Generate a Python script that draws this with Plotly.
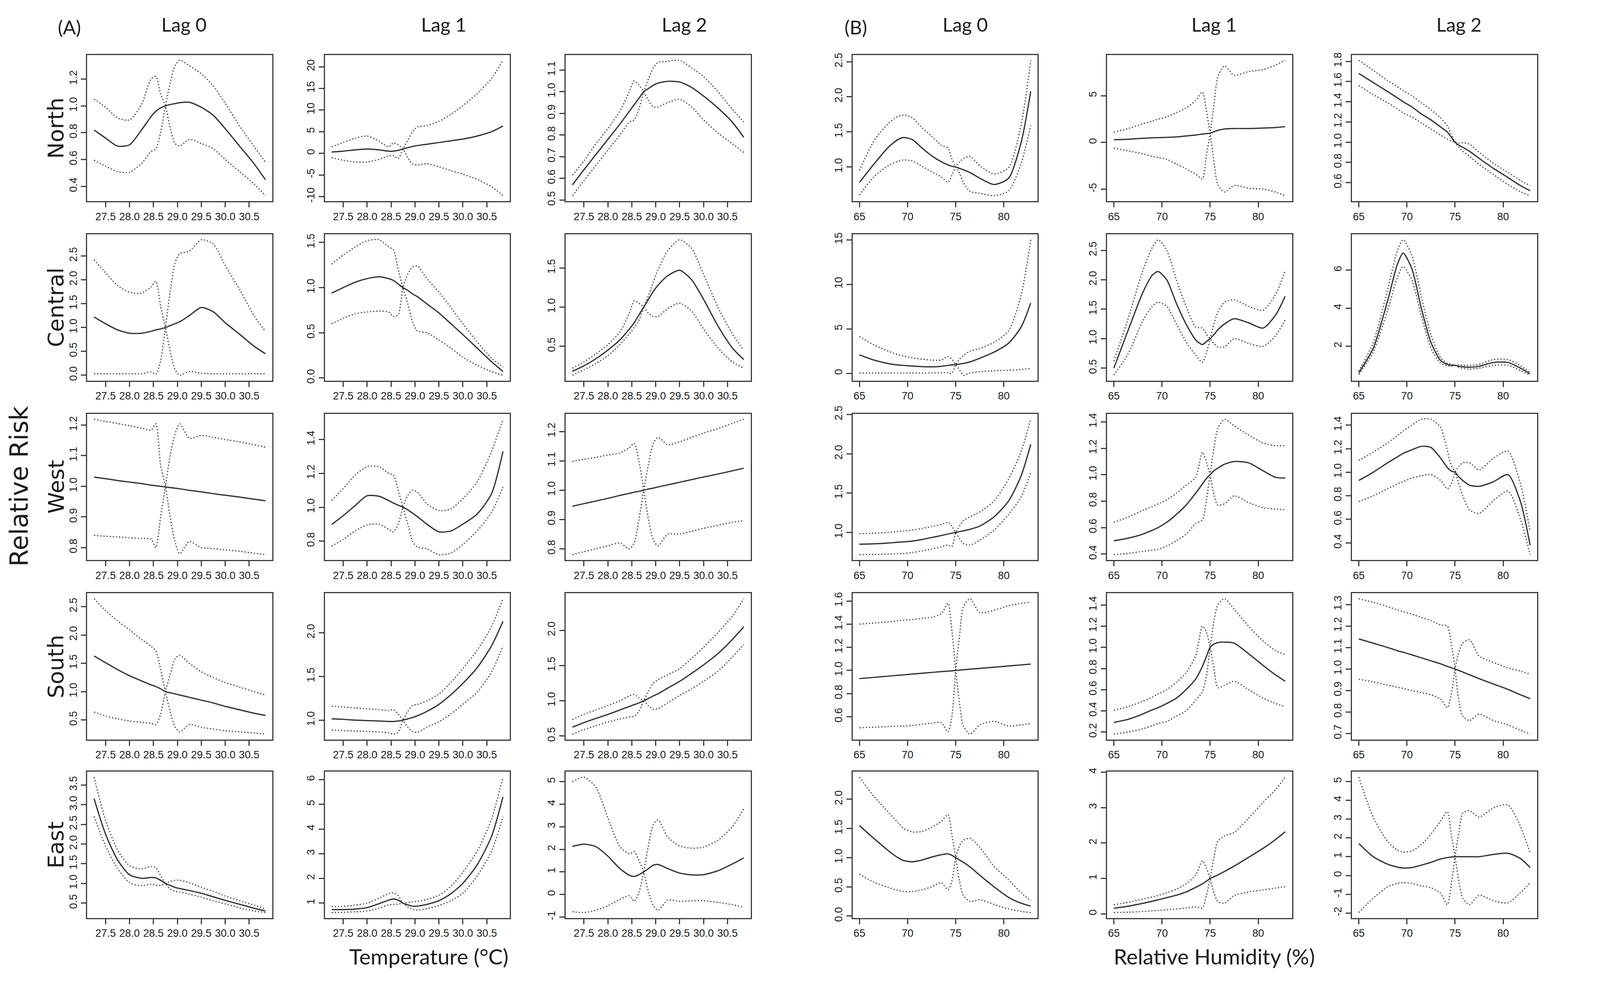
import plotly.graph_objects as go

# ---------------------------------------------------------------- data
temp_grid = [27.26, 27.5, 27.75, 28.0, 28.25, 28.45, 28.55, 28.65, 28.75, 28.85,
             28.95, 29.05, 29.25, 29.5, 29.75, 30.0, 30.3, 30.6, 30.84]
hum_grid = [65, 66.5, 68, 69, 69.6, 70.5, 71.5, 72.5, 73.5, 74.2,
            74.6, 75, 75.4, 75.8, 76.5, 77.5, 79, 80.5, 81.8, 82.8]
temp_ticks = [27.5, 28.0, 28.5, 29.0, 29.5, 30.0, 30.5]
hum_ticks = [65, 70, 75, 80]
regions = ["North", "Central", "West", "South", "East"]
lag_titles = ["Lag 0", "Lag 1", "Lag 2", "Lag 0", "Lag 1", "Lag 2"]
panel_tags = ["(A)", "(B)"]
x_titles = ["Temperature (°C)", "Relative Humidity (%)"]
y_title = "Relative Risk"

# North
north_t0_fit = [0.82, 0.76, 0.70, 0.71, 0.82, 0.92, 0.96, 0.985, 1.0, 1.01, 1.017, 1.024, 1.027, 0.99, 0.93, 0.83, 0.70, 0.57, 0.45]
north_t0_ci_a = [1.05, 0.99, 0.91, 0.895, 1.01, 1.20, 1.22, 1.09, 1.0, 0.84, 0.72, 0.70, 0.75, 0.72, 0.68, 0.60, 0.51, 0.42, 0.33]
north_t0_ci_b = [0.595, 0.55, 0.51, 0.505, 0.57, 0.66, 0.68, 0.80, 1.0, 1.17, 1.30, 1.34, 1.30, 1.24, 1.15, 1.02, 0.85, 0.70, 0.58]
north_t0_yt = [0.4, 0.6, 0.8, 1.0, 1.2]

north_t1_fit = [0.3, 0.5, 0.8, 1.0, 0.8, 0.5, 0.5, 0.7, 1.0, 1.3, 1.6, 1.8, 2.1, 2.5, 2.9, 3.3, 4.0, 5.0, 6.3]
north_t1_ci_a = [1.5, 2.5, 3.5, 4.0, 2.8, 1.5, 2.4, 2.0, 1.0, -1.0, -2.5, -2.7, -2.4, -3.1, -4.0, -4.8, -6.0, -7.7, -9.8]
north_t1_ci_b = [-1.0, -1.6, -2.0, -2.0, -1.4, -0.6, -0.5, -1.2, 1.0, 3.0, 5.0, 6.1, 6.4, 7.4, 9.0, 11.0, 13.8, 17.3, 21.5]
north_t1_yt = [-10, -5, 0, 5, 10, 15, 20]

north_t2_fit = [0.57, 0.64, 0.71, 0.78, 0.85, 0.91, 0.94, 0.97, 1.0, 1.015, 1.03, 1.04, 1.048, 1.045, 1.02, 0.98, 0.925, 0.86, 0.79]
north_t2_ci_a = [0.615, 0.68, 0.76, 0.83, 0.91, 1.0, 1.05, 1.03, 1.0, 0.96, 0.93, 0.93, 0.95, 0.965, 0.93, 0.87, 0.81, 0.76, 0.72]
north_t2_ci_b = [0.52, 0.59, 0.66, 0.73, 0.80, 0.86, 0.87, 0.92, 1.0, 1.06, 1.11, 1.135, 1.14, 1.145, 1.11, 1.07, 1.0, 0.92, 0.86]
north_t2_yt = [0.5, 0.6, 0.7, 0.8, 0.9, 1.0, 1.1]

north_h0_fit = [0.78, 1.04, 1.28, 1.39, 1.42, 1.39, 1.27, 1.16, 1.075, 1.03, 1.01, 1.0, 0.98, 0.96, 0.92, 0.84, 0.75, 0.84, 1.35, 2.08]
north_h0_ci_a = [0.95, 1.37, 1.62, 1.72, 1.74, 1.70, 1.56, 1.44, 1.31, 1.27, 1.12, 1.0, 0.91, 0.78, 0.65, 0.625, 0.59, 0.66, 1.05, 1.59]
north_h0_ci_b = [0.60, 0.86, 1.02, 1.08, 1.10, 1.085, 1.01, 0.93, 0.86, 0.78, 0.88, 1.0, 1.07, 1.12, 1.15, 1.02, 0.90, 0.99, 1.6, 2.52]
north_h0_yt = [1.0, 1.5, 2.0, 2.5]

north_h1_fit = [0.3, 0.35, 0.45, 0.5, 0.52, 0.55, 0.6, 0.7, 0.8, 0.9, 0.95, 1.0, 1.15, 1.3, 1.45, 1.5, 1.5, 1.55, 1.6, 1.7]
north_h1_ci_a = [1.1, 1.5, 2.0, 2.3, 2.5, 2.75, 3.2, 3.7, 4.5, 5.4, 3.5, 1.0, -2.0, -4.5, -5.3, -4.6, -4.9, -5.0, -5.3, -5.7]
north_h1_ci_b = [-0.6, -0.9, -1.2, -1.5, -1.6, -1.8, -2.3, -2.8, -3.4, -3.9, -1.5, 1.0, 4.0, 7.0, 8.2, 7.2, 7.6, 7.8, 8.3, 8.8]
north_h1_yt = [-5, 0, 5]

north_h2_fit = [1.68, 1.59, 1.50, 1.44, 1.40, 1.35, 1.28, 1.22, 1.15, 1.10, 1.05, 1.0, 0.97, 0.95, 0.91, 0.84, 0.74, 0.65, 0.57, 0.52]
north_h2_ci_a = [1.81, 1.71, 1.61, 1.55, 1.51, 1.46, 1.39, 1.32, 1.24, 1.16, 1.08, 1.0, 0.95, 0.91, 0.86, 0.78, 0.68, 0.58, 0.51, 0.47]
north_h2_ci_b = [1.56, 1.47, 1.39, 1.33, 1.29, 1.25, 1.19, 1.13, 1.07, 1.03, 1.01, 1.0, 0.99, 0.995, 0.98, 0.90, 0.79, 0.70, 0.62, 0.57]
north_h2_yt = [0.6, 0.8, 1.0, 1.2, 1.4, 1.6, 1.8]

# Central
central_t0_fit = [1.22, 1.08, 0.95, 0.88, 0.88, 0.92, 0.95, 0.97, 1.0, 1.04, 1.08, 1.12, 1.25, 1.42, 1.33, 1.10, 0.86, 0.61, 0.45]
central_t0_ci_a = [2.42, 2.15, 1.88, 1.74, 1.72, 1.85, 1.97, 1.45, 1.0, 0.5, 0.12, 0.0, 0.08, 0.04, 0.03, 0.03, 0.03, 0.03, 0.03]
central_t0_ci_b = [0.03, 0.03, 0.03, 0.03, 0.03, 0.07, 0.02, 0.3, 1.0, 1.75, 2.35, 2.55, 2.6, 2.84, 2.75, 2.3, 1.8, 1.25, 0.92]
central_t0_yt = [0.0, 0.5, 1.0, 1.5, 2.0, 2.5]

central_t1_fit = [0.94, 1.0, 1.06, 1.10, 1.12, 1.10, 1.08, 1.04, 1.0, 0.97, 0.93, 0.90, 0.82, 0.72, 0.60, 0.48, 0.33, 0.18, 0.07]
central_t1_ci_a = [1.26, 1.36, 1.45, 1.52, 1.53, 1.45, 1.42, 1.2, 1.0, 0.82, 0.62, 0.52, 0.5, 0.42, 0.33, 0.23, 0.14, 0.07, 0.03]
central_t1_ci_b = [0.60, 0.66, 0.71, 0.73, 0.74, 0.73, 0.68, 0.70, 1.0, 1.15, 1.23, 1.24, 1.1, 0.95, 0.78, 0.60, 0.40, 0.22, 0.12]
central_t1_yt = [0.0, 0.5, 1.0, 1.5]

central_t2_fit = [0.18, 0.25, 0.34, 0.45, 0.58, 0.72, 0.80, 0.90, 1.0, 1.1, 1.2, 1.28, 1.40, 1.47, 1.35, 1.1, 0.76, 0.48, 0.33]
central_t2_ci_a = [0.22, 0.30, 0.40, 0.52, 0.68, 0.92, 1.08, 1.05, 1.0, 0.92, 0.88, 0.88, 0.98, 1.05, 0.95, 0.72, 0.48, 0.30, 0.22]
central_t2_ci_b = [0.13, 0.20, 0.28, 0.38, 0.52, 0.66, 0.74, 0.83, 1.0, 1.15, 1.32, 1.48, 1.72, 1.86, 1.75, 1.42, 1.0, 0.66, 0.45]
central_t2_yt = [0.5, 1.0, 1.5]

central_h0_fit = [2.08, 1.5, 1.1, 0.95, 0.9, 0.83, 0.76, 0.74, 0.8, 0.9, 0.95, 1.0, 1.05, 1.12, 1.3, 1.7, 2.4, 3.4, 5.2, 7.9]
central_h0_ci_a = [4.15, 3.2, 2.5, 2.1, 1.95, 1.75, 1.6, 1.5, 1.5, 1.9, 1.6, 1.0, 0.4, -0.2, 0.05, 0.2, 0.3, 0.35, 0.45, 0.55]
central_h0_ci_b = [0.05, 0.05, 0.05, 0.05, 0.05, 0.05, 0.05, 0.05, 0.08, 0.1, 0.0, 1.0, 1.6, 2.0, 2.5, 2.8, 3.5, 4.8, 8.8, 15.0]
central_h0_yt = [0, 5, 10, 15]

central_h1_fit = [0.5, 1.15, 1.78, 2.08, 2.14, 2.0, 1.6, 1.25, 0.98, 0.9, 0.95, 1.0, 1.07, 1.15, 1.25, 1.34, 1.27, 1.18, 1.4, 1.72]
central_h1_ci_a = [0.62, 1.35, 2.15, 2.55, 2.68, 2.5, 2.0, 1.55, 1.2, 1.18, 1.08, 1.0, 0.92, 0.86, 0.86, 1.0, 0.92, 0.87, 1.05, 1.32]
central_h1_ci_b = [0.38, 0.75, 1.3, 1.55, 1.62, 1.55, 1.25, 0.95, 0.72, 0.6, 0.75, 1.0, 1.25, 1.45, 1.62, 1.66, 1.55, 1.48, 1.75, 2.15]
central_h1_yt = [0.5, 1.0, 1.5, 2.0, 2.5]

central_h2_fit = [0.6, 1.9, 4.4, 6.3, 6.9, 6.1, 4.0, 2.2, 1.25, 1.05, 1.0, 1.0, 0.95, 0.92, 0.9, 0.95, 1.15, 1.15, 0.85, 0.55]
central_h2_ci_a = [0.7, 2.2, 5.0, 7.0, 7.6, 6.8, 4.6, 2.6, 1.4, 1.1, 1.05, 1.0, 0.88, 0.84, 0.8, 0.85, 1.0, 1.0, 0.72, 0.48]
central_h2_ci_b = [0.52, 1.7, 3.9, 5.6, 6.2, 5.5, 3.6, 1.9, 1.1, 0.98, 0.95, 1.0, 1.02, 1.0, 1.0, 1.05, 1.3, 1.3, 0.98, 0.62]
central_h2_yt = [2, 4, 6]

# West
west_t0_fit = [1.03, 1.025, 1.019, 1.014, 1.009, 1.004, 1.002, 1.0, 0.998, 0.996, 0.994, 0.992, 0.987, 0.982, 0.976, 0.971, 0.965, 0.958, 0.953]
west_t0_ci_a = [1.219, 1.212, 1.205, 1.198, 1.19, 1.183, 1.204, 1.07, 1.0, 0.9, 0.82, 0.78, 0.82, 0.80, 0.797, 0.793, 0.788, 0.782, 0.777]
west_t0_ci_b = [0.84, 0.837, 0.835, 0.832, 0.83, 0.828, 0.80, 0.90, 1.0, 1.1, 1.17, 1.204, 1.157, 1.166, 1.16, 1.153, 1.145, 1.136, 1.128]
west_t0_yt = [0.8, 0.9, 1.0, 1.1, 1.2]

west_t1_fit = [0.898, 0.95, 1.01, 1.068, 1.065, 1.04, 1.025, 1.012, 1.0, 0.985, 0.965, 0.945, 0.9, 0.855, 0.86, 0.90, 0.96, 1.08, 1.33]
west_t1_ci_a = [1.04, 1.11, 1.19, 1.24, 1.24, 1.2, 1.19, 1.1, 1.0, 0.9, 0.8, 0.765, 0.755, 0.72, 0.73, 0.78, 0.86, 0.97, 1.12]
west_t1_ci_b = [0.77, 0.81, 0.86, 0.895, 0.9, 0.87, 0.855, 0.9, 1.0, 1.07, 1.1, 1.09, 1.02, 0.98, 0.99, 1.05, 1.15, 1.33, 1.52]
west_t1_yt = [0.8, 1.0, 1.2, 1.4]

west_t2_fit = [0.945, 0.954, 0.963, 0.972, 0.982, 0.989, 0.993, 0.996, 1.0, 1.004, 1.007, 1.011, 1.018, 1.027, 1.036, 1.045, 1.055, 1.066, 1.075]
west_t2_ci_a = [1.098, 1.105, 1.112, 1.12, 1.127, 1.145, 1.16, 1.1, 1.0, 0.9, 0.83, 0.81, 0.85, 0.85, 0.86, 0.87, 0.88, 0.89, 0.896]
west_t2_ci_b = [0.78, 0.79, 0.80, 0.81, 0.82, 0.80, 0.82, 0.9, 1.0, 1.09, 1.16, 1.18, 1.155, 1.165, 1.18, 1.195, 1.21, 1.228, 1.242]
west_t2_yt = [0.8, 0.9, 1.0, 1.1, 1.2]

west_h0_fit = [0.85, 0.855, 0.865, 0.875, 0.88, 0.89, 0.91, 0.935, 0.96, 0.98, 0.99, 1.0, 1.01, 1.02, 1.04, 1.08, 1.2, 1.4, 1.72, 2.12]
west_h0_ci_a = [0.983, 0.99, 1.0, 1.01, 1.017, 1.03, 1.05, 1.075, 1.1, 1.13, 1.08, 1.0, 0.92, 0.86, 0.84, 0.9, 1.03, 1.23, 1.45, 1.76]
west_h0_ci_b = [0.717, 0.72, 0.725, 0.73, 0.733, 0.745, 0.765, 0.79, 0.815, 0.84, 0.82, 1.0, 1.08, 1.15, 1.2, 1.26, 1.4, 1.68, 2.03, 2.44]
west_h0_yt = [1.0, 1.5, 2.0, 2.5]

west_h1_fit = [0.5, 0.52, 0.55, 0.58, 0.6, 0.64, 0.7, 0.77, 0.86, 0.93, 0.97, 1.0, 1.03, 1.05, 1.08, 1.1, 1.09, 1.03, 0.98, 0.975]
west_h1_ci_a = [0.64, 0.68, 0.73, 0.76, 0.78, 0.81, 0.86, 0.92, 0.98, 1.17, 1.1, 1.0, 0.85, 0.77, 0.78, 0.84, 0.79, 0.75, 0.74, 0.735]
west_h1_ci_b = [0.395, 0.405, 0.42, 0.43, 0.435, 0.46, 0.5, 0.55, 0.63, 0.66, 0.8, 1.0, 1.2, 1.35, 1.42, 1.37, 1.3, 1.24, 1.22, 1.22]
west_h1_yt = [0.4, 0.6, 0.8, 1.0, 1.2, 1.4]

west_h2_fit = [0.93, 1.0, 1.08, 1.13, 1.16, 1.19, 1.22, 1.21, 1.12, 1.04, 1.01, 1.0, 0.96, 0.93, 0.89, 0.88, 0.92, 0.98, 0.75, 0.38]
west_h2_ci_a = [1.1, 1.17, 1.25, 1.31, 1.35, 1.4, 1.45, 1.45, 1.38, 1.18, 1.06, 1.0, 0.9, 0.8, 0.68, 0.65, 0.76, 0.84, 0.6, 0.3]
west_h2_ci_b = [0.75, 0.8, 0.86, 0.9, 0.92, 0.95, 0.97, 0.98, 0.93, 0.86, 0.9, 1.0, 1.05, 1.08, 1.08, 1.02, 1.12, 1.18, 0.9, 0.5]
west_h2_yt = [0.4, 0.6, 0.8, 1.0, 1.2, 1.4]

# South
south_t0_fit = [1.63, 1.51, 1.39, 1.28, 1.19, 1.12, 1.09, 1.05, 1.0, 0.98, 0.96, 0.94, 0.9, 0.85, 0.8, 0.74, 0.68, 0.62, 0.58]
south_t0_ci_a = [2.64, 2.43, 2.25, 2.09, 1.92, 1.8, 1.72, 1.4, 1.0, 0.65, 0.38, 0.29, 0.42, 0.37, 0.34, 0.31, 0.29, 0.27, 0.25]
south_t0_ci_b = [0.64, 0.57, 0.52, 0.48, 0.46, 0.44, 0.42, 0.6, 1.0, 1.3, 1.58, 1.64, 1.5, 1.35, 1.25, 1.16, 1.08, 1.0, 0.94]
south_t0_yt = [0.5, 1.0, 1.5, 2.0, 2.5]

south_t1_fit = [1.015, 1.01, 1.0, 0.995, 0.99, 0.985, 0.985, 0.99, 1.0, 1.015, 1.03, 1.05, 1.1, 1.18, 1.29, 1.42, 1.6, 1.85, 2.13]
south_t1_ci_a = [1.16, 1.15, 1.14, 1.13, 1.12, 1.11, 1.12, 1.07, 1.0, 0.92, 0.87, 0.86, 0.92, 0.98, 1.07, 1.18, 1.32, 1.55, 1.85]
south_t1_ci_b = [0.886, 0.88, 0.875, 0.871, 0.865, 0.856, 0.84, 0.86, 1.0, 1.1, 1.17, 1.18, 1.22, 1.3, 1.43, 1.59, 1.8, 2.07, 2.39]
south_t1_yt = [1.0, 1.5, 2.0]

south_t2_fit = [0.626, 0.69, 0.75, 0.807, 0.87, 0.92, 0.945, 0.97, 1.0, 1.035, 1.07, 1.1, 1.18, 1.276, 1.39, 1.51, 1.67, 1.87, 2.05]
south_t2_ci_a = [0.735, 0.807, 0.87, 0.933, 1.0, 1.07, 1.09, 1.04, 1.0, 0.93, 0.88, 0.89, 0.97, 1.077, 1.17, 1.276, 1.42, 1.62, 1.8]
south_t2_ci_b = [0.527, 0.59, 0.645, 0.7, 0.74, 0.77, 0.78, 0.85, 1.0, 1.14, 1.25, 1.3, 1.37, 1.457, 1.6, 1.76, 1.97, 2.2, 2.45]
south_t2_yt = [0.5, 1.0, 1.5, 2.0]

south_h0_fit = [0.93, 0.94, 0.951, 0.958, 0.962, 0.969, 0.976, 0.983, 0.99, 0.994, 0.997, 1.0, 1.003, 1.006, 1.011, 1.018, 1.028, 1.039, 1.048, 1.055]
south_h0_ci_a = [1.4, 1.41, 1.42, 1.43, 1.435, 1.44, 1.45, 1.46, 1.49, 1.58, 1.35, 1.0, 0.72, 0.52, 0.45, 0.53, 0.56, 0.52, 0.53, 0.54]
south_h0_ci_b = [0.505, 0.51, 0.515, 0.52, 0.52, 0.525, 0.535, 0.545, 0.55, 0.47, 0.6, 1.0, 1.3, 1.55, 1.62, 1.5, 1.52, 1.56, 1.58, 1.59]
south_h0_yt = [0.6, 0.8, 1.0, 1.2, 1.4, 1.6]

south_h1_fit = [0.29, 0.32, 0.37, 0.41, 0.43, 0.47, 0.52, 0.6, 0.7, 0.82, 0.91, 1.0, 1.03, 1.045, 1.05, 1.04, 0.94, 0.83, 0.74, 0.68]
south_h1_ci_a = [0.405, 0.44, 0.49, 0.53, 0.56, 0.6, 0.67, 0.76, 0.92, 1.2, 1.15, 1.0, 0.8, 0.62, 0.64, 0.68, 0.6, 0.52, 0.47, 0.44]
south_h1_ci_b = [0.18, 0.2, 0.23, 0.26, 0.28, 0.3, 0.35, 0.4, 0.5, 0.58, 0.72, 1.0, 1.25, 1.4, 1.46, 1.36, 1.2, 1.06, 0.97, 0.93]
south_h1_yt = [0.2, 0.4, 0.6, 0.8, 1.0, 1.2, 1.4]

south_h2_fit = [1.14, 1.12, 1.10, 1.085, 1.078, 1.066, 1.052, 1.038, 1.024, 1.012, 1.006, 1.0, 0.993, 0.986, 0.973, 0.955, 0.93, 0.905, 0.88, 0.862]
south_h2_ci_a = [1.327, 1.31, 1.29, 1.275, 1.267, 1.255, 1.24, 1.225, 1.205, 1.2, 1.12, 1.0, 0.85, 0.78, 0.76, 0.79, 0.76, 0.74, 0.715, 0.697]
south_h2_ci_b = [0.952, 0.94, 0.925, 0.915, 0.91, 0.9, 0.89, 0.88, 0.86, 0.82, 0.88, 1.0, 1.08, 1.12, 1.136, 1.06, 1.03, 1.005, 0.99, 0.976]
south_h2_yt = [0.7, 0.8, 0.9, 1.0, 1.1, 1.2, 1.3]

# East
east_t0_fit = [3.15, 2.25, 1.6, 1.22, 1.13, 1.15, 1.14, 1.08, 1.0, 0.95, 0.9, 0.87, 0.82, 0.75, 0.66, 0.57, 0.47, 0.37, 0.3]
east_t0_ci_a = [3.7, 2.6, 1.85, 1.45, 1.37, 1.43, 1.4, 1.2, 1.0, 0.86, 0.8, 0.78, 0.73, 0.65, 0.56, 0.48, 0.38, 0.3, 0.26]
east_t0_ci_b = [2.7, 1.95, 1.38, 1.02, 0.94, 0.98, 0.95, 0.95, 1.0, 1.05, 1.08, 1.08, 1.02, 0.9, 0.8, 0.68, 0.56, 0.45, 0.35]
east_t0_yt = [0.5, 1.0, 1.5, 2.0, 2.5, 3.0, 3.5]

east_t1_fit = [0.74, 0.74, 0.76, 0.82, 0.98, 1.12, 1.17, 1.12, 1.0, 0.93, 0.88, 0.88, 0.95, 1.1, 1.38, 1.8, 2.55, 3.7, 5.3]
east_t1_ci_a = [0.86, 0.87, 0.92, 1.0, 1.2, 1.38, 1.42, 1.3, 1.0, 0.85, 0.75, 0.72, 0.78, 0.9, 1.1, 1.4, 2.1, 3.1, 4.5]
east_t1_ci_b = [0.62, 0.63, 0.65, 0.68, 0.8, 0.93, 0.95, 0.96, 1.0, 1.03, 1.05, 1.07, 1.15, 1.32, 1.68, 2.25, 3.1, 4.4, 6.1]
east_t1_yt = [1, 2, 3, 4, 5, 6]

east_t2_fit = [2.13, 2.23, 2.12, 1.7, 1.15, 0.85, 0.8, 0.88, 1.0, 1.15, 1.3, 1.33, 1.15, 0.95, 0.87, 0.88, 1.05, 1.35, 1.62]
east_t2_ci_a = [5.0, 5.2, 4.75, 3.4, 2.13, 1.8, 1.9, 1.5, 1.0, 0.1, -0.5, -0.7, -0.25, -0.3, -0.28, -0.27, -0.35, -0.45, -0.57]
east_t2_ci_b = [-0.76, -0.8, -0.7, -0.5, -0.22, -0.05, -0.3, 0.1, 1.0, 2.2, 3.1, 3.3, 2.55, 2.15, 2.05, 2.1, 2.4, 3.0, 3.8]
east_t2_yt = [-1, 0, 1, 2, 3, 4, 5]

east_h0_fit = [1.55, 1.33, 1.12, 1.0, 0.95, 0.93, 0.96, 1.01, 1.05, 1.065, 1.04, 1.0, 0.96, 0.92, 0.84, 0.7, 0.5, 0.32, 0.22, 0.17]
east_h0_ci_a = [2.38, 2.05, 1.78, 1.6, 1.5, 1.44, 1.45, 1.52, 1.62, 1.74, 1.4, 1.0, 0.6, 0.35, 0.25, 0.28, 0.2, 0.12, 0.08, 0.06]
east_h0_ci_b = [0.72, 0.58, 0.49, 0.44, 0.42, 0.42, 0.45, 0.5, 0.57, 0.45, 0.6, 1.0, 1.2, 1.3, 1.33, 1.18, 0.85, 0.62, 0.4, 0.26]
east_h0_yt = [0.0, 0.5, 1.0, 1.5, 2.0]

east_h1_fit = [0.16, 0.22, 0.3, 0.36, 0.4, 0.46, 0.53, 0.62, 0.75, 0.85, 0.92, 1.0, 1.05, 1.1, 1.2, 1.35, 1.6, 1.85, 2.1, 2.32]
east_h1_ci_a = [0.26, 0.33, 0.42, 0.48, 0.52, 0.6, 0.7, 0.85, 1.1, 1.5, 1.3, 1.0, 0.6, 0.35, 0.3, 0.52, 0.62, 0.68, 0.73, 0.77]
east_h1_ci_b = [0.04, 0.05, 0.07, 0.09, 0.1, 0.12, 0.14, 0.17, 0.2, 0.17, 0.5, 1.0, 1.6, 2.05, 2.2, 2.3, 2.7, 3.15, 3.5, 3.86]
east_h1_yt = [0, 1, 2, 3, 4]

east_h2_fit = [1.7, 1.0, 0.6, 0.45, 0.4, 0.42, 0.55, 0.7, 0.88, 0.95, 0.98, 1.0, 1.0, 1.0, 1.0, 1.0, 1.12, 1.18, 0.9, 0.42]
east_h2_ci_a = [5.23, 3.1, 1.8, 1.35, 1.25, 1.3, 1.65, 2.2, 2.9, 3.4, 2.2, 1.0, -0.3, -1.2, -1.55, -1.05, -1.35, -1.45, -0.9, -0.4]
east_h2_ci_b = [-1.97, -1.2, -0.6, -0.42, -0.38, -0.42, -0.55, -0.65, -0.95, -1.55, -0.5, 1.0, 2.3, 3.3, 3.45, 3.1, 3.6, 3.75, 2.6, 1.2]
east_h2_yt = [-2, -1, 0, 1, 2, 3, 4, 5]

# panel table built from the named lists (row = region, col = T lag0..2, RH lag0..2)
panels = [
    [(north_t0_fit, north_t0_ci_a, north_t0_ci_b, north_t0_yt), (north_t1_fit, north_t1_ci_a, north_t1_ci_b, north_t1_yt),
     (north_t2_fit, north_t2_ci_a, north_t2_ci_b, north_t2_yt), (north_h0_fit, north_h0_ci_a, north_h0_ci_b, north_h0_yt),
     (north_h1_fit, north_h1_ci_a, north_h1_ci_b, north_h1_yt), (north_h2_fit, north_h2_ci_a, north_h2_ci_b, north_h2_yt)],
    [(central_t0_fit, central_t0_ci_a, central_t0_ci_b, central_t0_yt), (central_t1_fit, central_t1_ci_a, central_t1_ci_b, central_t1_yt),
     (central_t2_fit, central_t2_ci_a, central_t2_ci_b, central_t2_yt), (central_h0_fit, central_h0_ci_a, central_h0_ci_b, central_h0_yt),
     (central_h1_fit, central_h1_ci_a, central_h1_ci_b, central_h1_yt), (central_h2_fit, central_h2_ci_a, central_h2_ci_b, central_h2_yt)],
    [(west_t0_fit, west_t0_ci_a, west_t0_ci_b, west_t0_yt), (west_t1_fit, west_t1_ci_a, west_t1_ci_b, west_t1_yt),
     (west_t2_fit, west_t2_ci_a, west_t2_ci_b, west_t2_yt), (west_h0_fit, west_h0_ci_a, west_h0_ci_b, west_h0_yt),
     (west_h1_fit, west_h1_ci_a, west_h1_ci_b, west_h1_yt), (west_h2_fit, west_h2_ci_a, west_h2_ci_b, west_h2_yt)],
    [(south_t0_fit, south_t0_ci_a, south_t0_ci_b, south_t0_yt), (south_t1_fit, south_t1_ci_a, south_t1_ci_b, south_t1_yt),
     (south_t2_fit, south_t2_ci_a, south_t2_ci_b, south_t2_yt), (south_h0_fit, south_h0_ci_a, south_h0_ci_b, south_h0_yt),
     (south_h1_fit, south_h1_ci_a, south_h1_ci_b, south_h1_yt), (south_h2_fit, south_h2_ci_a, south_h2_ci_b, south_h2_yt)],
    [(east_t0_fit, east_t0_ci_a, east_t0_ci_b, east_t0_yt), (east_t1_fit, east_t1_ci_a, east_t1_ci_b, east_t1_yt),
     (east_t2_fit, east_t2_ci_a, east_t2_ci_b, east_t2_yt), (east_h0_fit, east_h0_ci_a, east_h0_ci_b, east_h0_yt),
     (east_h1_fit, east_h1_ci_a, east_h1_ci_b, east_h1_yt), (east_h2_fit, east_h2_ci_a, east_h2_ci_b, east_h2_yt)],
]

# ---------------------------------------------------------------- layout / style
W, H = 4220, 2566
REF_W, REF_H = 1568.0, 953.5            # layout measured in these units
COL_LEFT = [80, 306, 535, 808, 1050, 1283]
COL_W = 176
ROW_TOP = [42, 215, 388, 561, 733]
ROW_H = 141

FIT_COLOR = "#333333"
CI_COLOR = "#4d4d4d"
FRAME_COLOR = "#3c3c3c"
TEXT_COLOR = "#1c1c1c"
TICK_FONT = dict(family="Liberation Sans Narrow, Arial Narrow, Liberation Sans, Arial, sans-serif",
                 size=27, color=TEXT_COLOR)
TITLE_FONT = dict(family="Lato, Open Sans, sans-serif", size=49, color=TEXT_COLOR)
ROW_FONT = dict(family="DejaVu Sans, Verdana, sans-serif", size=56, color=TEXT_COLOR)


def fmt(v, dec):
    return f"{v:.1f}" if dec else f"{int(round(v))}"


def padded(lo, hi, frac=0.04):
    d = hi - lo
    return [lo - frac * d, hi + frac * d]


fig = go.Figure()
layout = dict(
    width=W, height=H, autosize=False,
    margin=dict(l=0, r=0, t=0, b=0, pad=0),
    paper_bgcolor="white", plot_bgcolor="white",
    showlegend=False,
)

for r in range(5):
    for c in range(6):
        k = r * 6 + c + 1
        xref = "x" if k == 1 else f"x{k}"
        yref = "y" if k == 1 else f"y{k}"
        fit, ci_a, ci_b, yt = panels[r][c]
        is_temp = c < 3
        grid = temp_grid if is_temp else hum_grid
        xt = temp_ticks if is_temp else hum_ticks

        for arr, dash, col, w in ((ci_a, "3px,5px", CI_COLOR, 3.2),
                                  (ci_b, "3px,5px", CI_COLOR, 3.2),
                                  (fit, "solid", FIT_COLOR, 3.2)):
            fig.add_trace(go.Scatter(
                x=grid, y=arr, xaxis=xref, yaxis=yref, mode="lines",
                line=dict(color=col, width=w, dash=dash, shape="spline", smoothing=0.7),
                hoverinfo="skip"))

        allv = fit + ci_a + ci_b
        yr = padded(min(allv), max(allv))
        xr = padded(min(grid), max(grid))
        ydec = any(abs(v - round(v)) > 1e-9 for v in yt)

        x0 = COL_LEFT[c] / REF_W
        x1 = (COL_LEFT[c] + COL_W) / REF_W
        y1 = 1 - ROW_TOP[r] / REF_H
        y0 = 1 - (ROW_TOP[r] + ROW_H) / REF_H

        common = dict(showgrid=False, zeroline=False, showline=True, linecolor=FRAME_COLOR,
                      linewidth=3, mirror=True, ticks="outside", ticklen=13, tickwidth=2.5,
                      tickcolor=FRAME_COLOR, tickfont=TICK_FONT, fixedrange=True)
        layout["xaxis" if k == 1 else f"xaxis{k}"] = dict(
            common, domain=[x0, x1], anchor=yref, range=xr,
            tickmode="array", tickvals=xt,
            ticktext=[fmt(v, is_temp) for v in xt], tickangle=0)
        layout["yaxis" if k == 1 else f"yaxis{k}"] = dict(
            common, domain=[y0, y1], anchor=xref, range=yr,
            tickmode="array", tickvals=yt,
            ticktext=[fmt(v, ydec) for v in yt], tickangle=-90)

annotations = []
# lag titles
lag_x = [172, 419, 648, 915, 1152, 1385]
for c in range(6):
    annotations.append(dict(text=lag_titles[c], x=lag_x[c] / REF_W, y=1 - 12.5 / REF_H,
                            xref="paper", yref="paper", showarrow=False,
                            xanchor="center", yanchor="middle", font=TITLE_FONT))
# panel tags
for tag, px in zip(panel_tags, [63, 811]):
    annotations.append(dict(text=tag, x=px / REF_W, y=1 - 15 / REF_H, xref="paper", yref="paper",
                            showarrow=False, xanchor="center", yanchor="middle", font=TITLE_FONT))
# region labels
for r in range(5):
    annotations.append(dict(text=regions[r], x=50 / REF_W, y=1 - (ROW_TOP[r] + ROW_H / 2) / REF_H,
                            xref="paper", yref="paper", showarrow=False, textangle=-90,
                            xanchor="center", yanchor="middle", font=ROW_FONT))
# y title
annotations.append(dict(text=y_title, x=15 / REF_W, y=1 - 458 / REF_H, xref="paper", yref="paper",
                        showarrow=False, textangle=-90, xanchor="center", yanchor="middle",
                        font=dict(ROW_FONT, size=64)))
# x titles
for t, px in zip(x_titles, [405, 1152]):
    annotations.append(dict(text=t, x=px / REF_W, y=1 - 911 / REF_H, xref="paper", yref="paper",
                            showarrow=False, xanchor="center", yanchor="middle",
                            font=dict(TITLE_FONT, size=55)))

layout["annotations"] = annotations
fig.update_layout(**layout)
fig.write_html("out.html")
